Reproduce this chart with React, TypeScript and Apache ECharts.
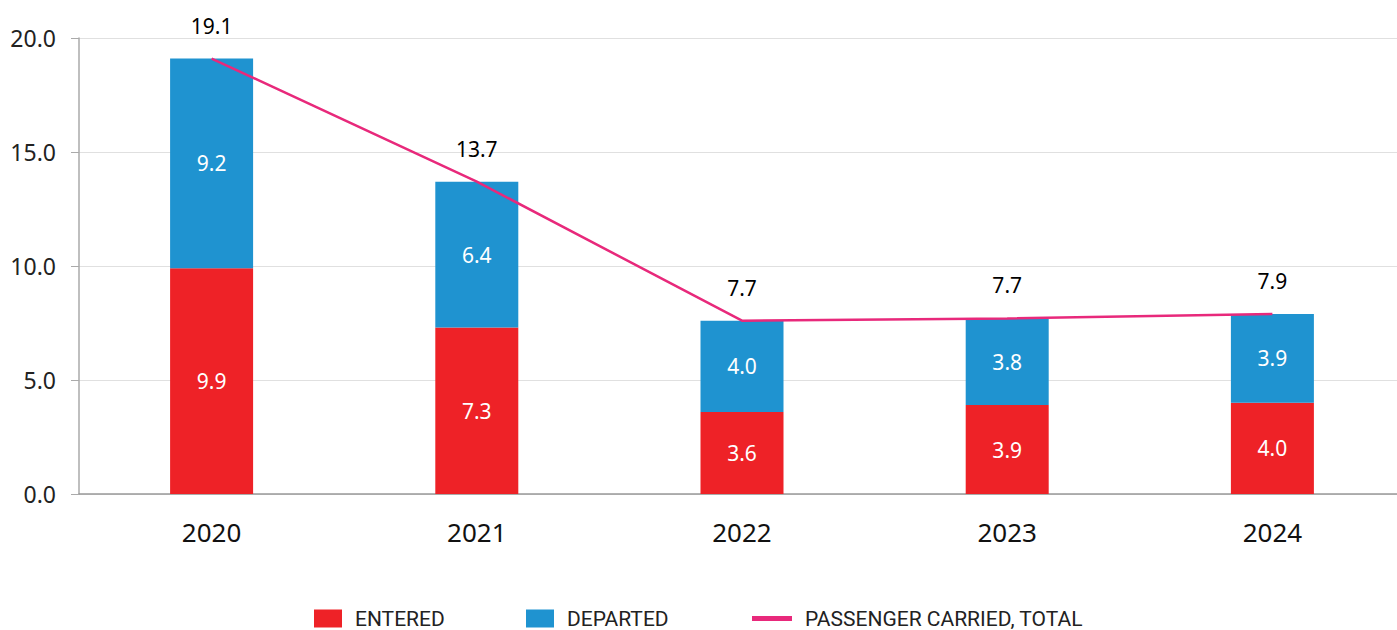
import React, { useEffect, useRef } from "react";
import * as echarts from "echarts";

const categories = ["2020", "2021", "2022", "2023", "2024"];
const entered = [9.9, 7.3, 3.6, 3.9, 4.0];
const departed = [9.2, 6.4, 4.0, 3.8, 3.9];
const total = [19.1, 13.7, 7.6, 7.7, 7.9];
const totalLabels = ["19.1", "13.7", "7.7", "7.7", "7.9"];
const yTicks = [0, 5, 10, 15, 20];

const FONT = "'Noto Sans', 'Open Sans', sans-serif";
const LEGEND_FONT = "Roboto, sans-serif";
const LINE_COLOR = "#e8297b";

export default function App() {
  const ref = useRef<HTMLDivElement>(null);
  useEffect(() => {
    if (!ref.current) return;
    const chart = echarts.init(ref.current, null, { renderer: "svg" });
    const legendText = {
      fontSize: 21,
      lineHeight: 20,
      color: "#222",
      fontFamily: LEGEND_FONT,
      padding: [0, 0, 0, 8],
    };
    chart.setOption({
      animation: false,
      textStyle: { fontFamily: FONT },
      grid: { left: 79, width: 1326, top: 38, bottom: 136, containLabel: false },
      legend: [
        {
          data: ["ENTERED"],
          left: 309,
          top: 603,
          icon: "rect",
          itemWidth: 28,
          itemHeight: 18,
          textStyle: legendText,
        },
        {
          data: ["DEPARTED"],
          left: 521,
          top: 603,
          icon: "rect",
          itemWidth: 28,
          itemHeight: 18,
          textStyle: legendText,
        },
        {
          data: [
            {
              name: "PASSENGER CARRIED, TOTAL",
              itemStyle: { color: LINE_COLOR, opacity: 1 },
            },
          ],
          left: 747,
          top: 603,
          icon: "rect",
          itemWidth: 40,
          itemHeight: 5,
          itemStyle: { opacity: 1 },
          textStyle: legendText,
        },
      ],
      xAxis: {
        type: "category",
        data: categories,
        axisLine: { lineStyle: { color: "#999", width: 1.5 } },
        axisTick: { show: false },
        axisLabel: { fontSize: 26, color: "#111", margin: 25 },
      },
      yAxis: {
        type: "value",
        min: 0,
        max: 20,
        interval: 5,
        axisLine: { show: true, lineStyle: { color: "#aaa", width: 1.5 } },
        axisTick: { show: true, length: 8, lineStyle: { color: "#aaa" } },
        splitLine: { lineStyle: { color: "#e0e0e0", width: 1 } },
        axisLabel: {
          fontSize: 23,
          color: "#222",
          margin: 23,
          formatter: (v: number) => (yTicks.includes(v) ? v.toFixed(1) : ""),
        },
      },
      series: [
        {
          name: "ENTERED",
          type: "bar",
          stack: "t",
          barWidth: 83,
          data: entered,
          itemStyle: { color: "#ee2227" },
          label: {
            show: true,
            position: "inside",
            color: "#fff",
            fontSize: 21,
            formatter: (p: any) => Number(p.value).toFixed(1),
          },
        },
        {
          name: "DEPARTED",
          type: "bar",
          stack: "t",
          barWidth: 83,
          data: departed,
          itemStyle: { color: "#1f93d0" },
          label: {
            show: true,
            position: "inside",
            color: "#fff",
            fontSize: 21,
            formatter: (p: any) => Number(p.value).toFixed(1),
          },
        },
        {
          name: "PASSENGER CARRIED, TOTAL",
          type: "line",
          data: total,
          symbol: "circle",
          symbolSize: 1,
          showSymbol: true,
          z: 5,
          itemStyle: { color: LINE_COLOR, opacity: 0 },
          lineStyle: { color: LINE_COLOR, width: 2.5, opacity: 1 },
          label: {
            show: true,
            position: "top",
            distance: 22,
            color: "#000",
            fontSize: 21,
            opacity: 1,
            formatter: (p: any) => totalLabels[p.dataIndex],
          },
        },
      ],
    });
    return () => chart.dispose();
  }, []);
  return (
    <div
      style={{
        position: "absolute",
        left: 0,
        top: 0,
        width: 1397,
        height: 630,
        overflow: "hidden",
      }}
    >
      <div ref={ref} style={{ width: 1410, height: 630 }} />
    </div>
  );
}
